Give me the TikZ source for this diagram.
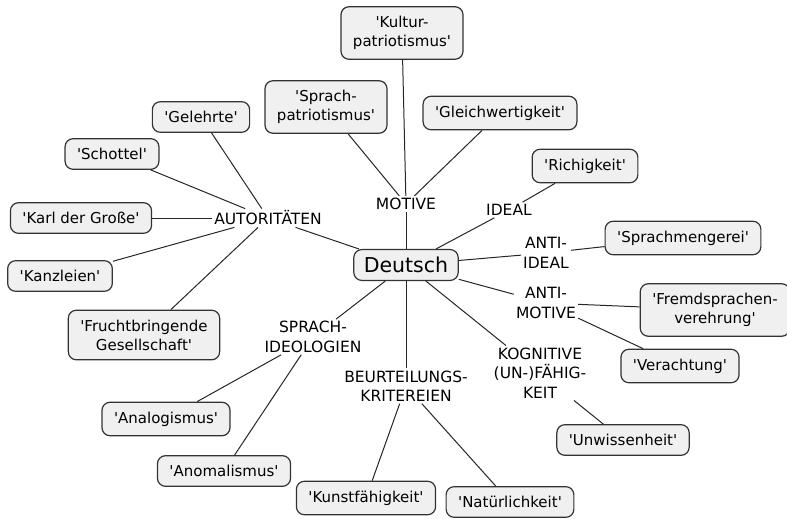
\documentclass[tikz,border=0pt]{standalone}
\usepackage{fontspec}
\setmainfont{DejaVu Sans}
\newcommand\sq{\textquotesingle}
\begin{document}
\begin{tikzpicture}[x=1pt,y=-1pt,
  box/.style={draw=black!80, line width=1.2pt, fill=black!6, rounded corners=8pt,
    align=center, inner xsep=12pt, inner ysep=9.5pt, font=\fontsize{15}{19}\selectfont},
  lab/.style={align=center, inner sep=2pt, font=\fontsize{15.5}{19.5}\selectfont},
  root/.style={box, font=\fontsize{20.5}{24}\selectfont, inner xsep=10pt, inner ysep=7.5pt},
  conn/.style={draw=black!85, line width=1pt}]
\useasboundingbox (0,0) rectangle (787,519);
\node[box] (kultur) at (402,33) {\sq Kultur-\\patriotismus\sq};
\node[box] (sprachp) at (326,107) {\sq Sprach-\\patriotismus\sq};
\node[box] (gelehrte) at (201,117) {\sq Gelehrte\sq};
\node[box] (gleich) at (500,113) {\sq Gleichwertigkeit\sq};
\node[box] (schottel) at (112,154) {\sq Schottel\sq};
\node[box] (richig) at (585,166) {\sq Richigkeit\sq};
\node[box] (karl) at (81,218) {\sq Karl der Große\sq};
\node[lab] (autor) at (268,218) {AUTORITÄTEN};
\node[lab] (motive) at (406,204) {MOTIVE};
\node[lab] (ideal) at (509,210) {IDEAL};
\node[root] (deutsch) at (406,265) {Deutsch};
\node[box] (sprachm) at (683,238) {\sq Sprachmengerei\sq};
\node[lab] (antiideal) at (546,253) {ANTI-\\IDEAL};
\node[box] (kanz) at (60,276) {\sq Kanzleien\sq};
\node[lab] (antimotive) at (546,303) {ANTI-\\MOTIVE};
\node[box] (fremd) at (715,310) {\sq Fremdsprachen-\\verehrung\sq};
\node[box] (frucht) at (144,335) {\sq Fruchtbringende\\Gesellschaft\sq};
\node[lab] (sprachideo) at (313,337) {SPRACH-\\IDEOLOGIEN};
\node[box] (verach) at (680,366) {\sq Verachtung\sq};
\node[lab] (kogn) at (540,373) {KOGNITIVE\\(UN-)FÄHIG-\\KEIT};
\node[lab] (beurt) at (406,386) {BEURTEILUNGS-\\KRITEREIEN};
\node[box] (analog) at (166,419) {\sq Analogismus\sq};
\node[box] (unwiss) at (623,440) {\sq Unwissenheit\sq};
\node[box] (anomal) at (224,471) {\sq Anomalismus\sq};
\node[box] (kunst) at (366,498) {\sq Kunstfähigkeit\sq};
\node[box] (natur) at (510,502) {\sq Natürlichkeit\sq};

\draw[conn] (kultur) -- (motive);
\draw[conn] (sprachp) -- (motive);
\draw[conn] (gleich) -- (motive);
\draw[conn] (motive) -- (deutsch);
\draw[conn] (gelehrte) -- (autor);
\draw[conn] (schottel) -- (autor);
\draw[conn] (karl) -- (autor);
\draw[conn] (kanz) -- (autor);
\draw[conn] (frucht) -- (autor);
\draw[conn] (autor) -- (deutsch);
\draw[conn] (richig) -- (ideal);
\draw[conn] (ideal) -- (deutsch);
\draw[conn] (deutsch) -- (antiideal);
\draw[conn] (antiideal) -- (sprachm);
\draw[conn] (deutsch) -- (antimotive);
\draw[conn] (antimotive) -- (fremd);
\draw[conn] (antimotive) -- (verach);
\draw[conn] (deutsch) -- (kogn);
\draw[conn] (kogn) -- (unwiss);
\draw[conn] (deutsch) -- (beurt);
\draw[conn] (beurt) -- (kunst);
\draw[conn] (beurt) -- (natur);
\draw[conn] (deutsch) -- (sprachideo);
\draw[conn] (sprachideo) -- (analog);
\draw[conn] (sprachideo) -- (anomal);
\end{tikzpicture}
\end{document}
